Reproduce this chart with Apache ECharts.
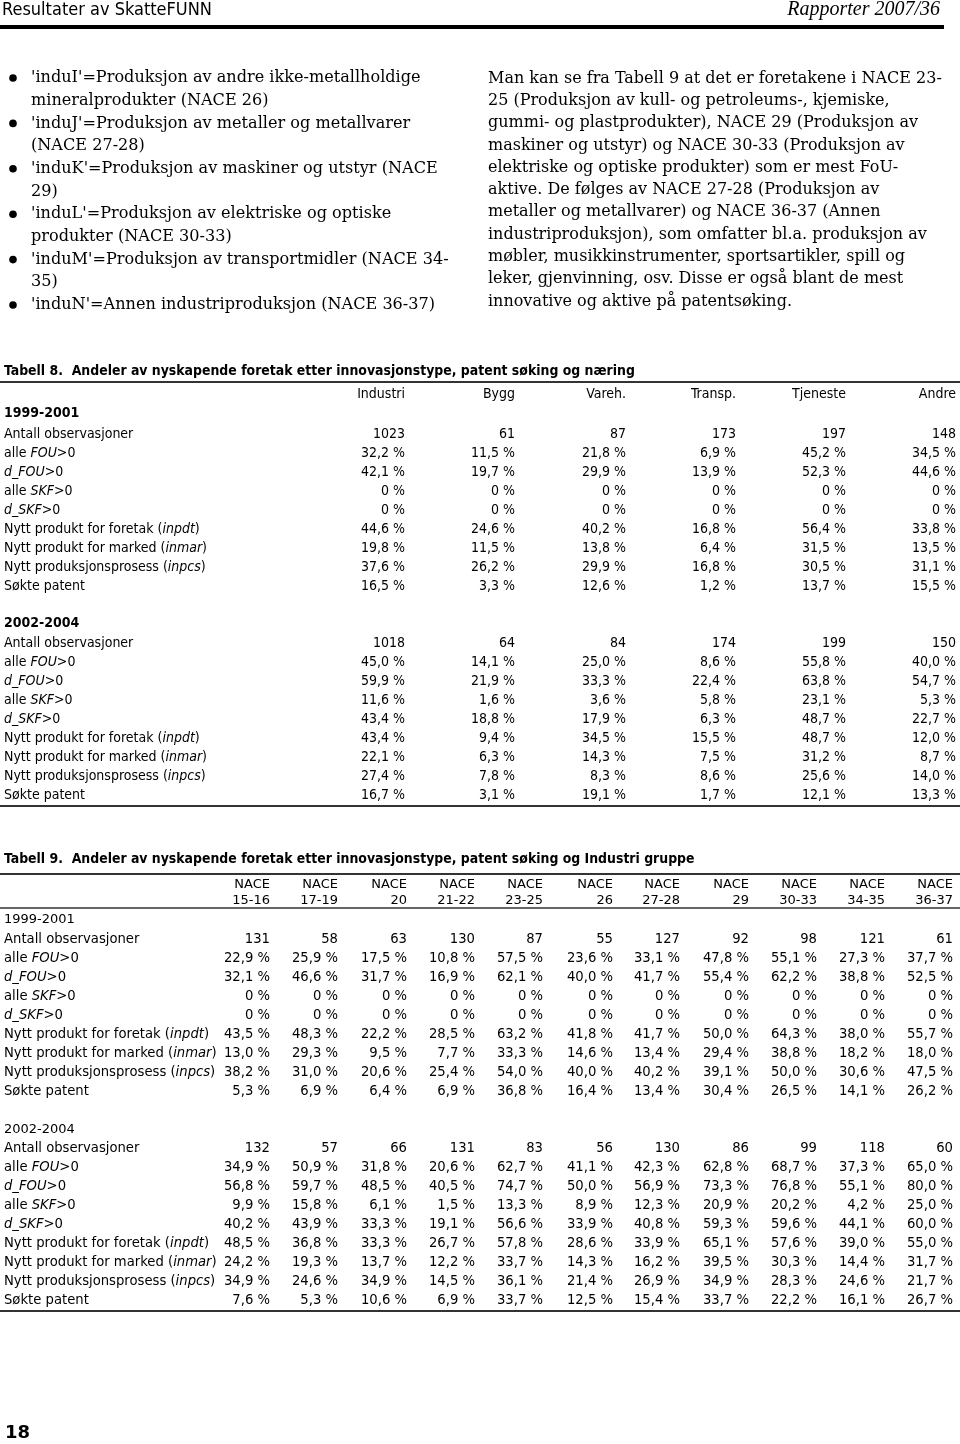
<!DOCTYPE html>
<html>
<head>
<meta charset="utf-8">
<script src="https://cdn.jsdelivr.net/npm/echarts@6/dist/echarts.min.js"></script>
<style>
html, body { margin: 0; background: #fff; }
#page { width: 960px; height: 1444px; }
</style>
</head>
<body>
<div id="page"></div>
<script>
// --- tekst og tall fra siden ---
const headerLeft = 'Resultater av SkatteFUNN';
const headerRight = 'Rapporter 2007/36';
const pageNo = '18';

const bulletLines = [
  ["'induI'=Produksjon av andre ikke-metallholdige", 'mineralprodukter (NACE 26)'],
  ["'induJ'=Produksjon av metaller og metallvarer", '(NACE 27-28)'],
  ["'induK'=Produksjon av maskiner og utstyr (NACE", '29)'],
  ["'induL'=Produksjon av elektriske og optiske", 'produkter (NACE 30-33)'],
  ["'induM'=Produksjon av transportmidler (NACE 34-", '35)'],
  ["'induN'=Annen industriproduksjon (NACE 36-37)"]
];

const paragraphLines = [
  'Man kan se fra Tabell 9 at det er foretakene i NACE 23-',
  '25 (Produksjon av kull- og petroleums-, kjemiske,',
  'gummi- og plastprodukter), NACE 29 (Produksjon av',
  'maskiner og utstyr) og NACE 30-33 (Produksjon av',
  'elektriske og optiske produkter) som er mest FoU-',
  'aktive. De følges av NACE 27-28 (Produksjon av',
  'metaller og metallvarer) og NACE 36-37 (Annen',
  'industriproduksjon), som omfatter bl.a. produksjon av',
  'møbler, musikkinstrumenter, sportsartikler, spill og',
  'leker, gjenvinning, osv. Disse er også blant de mest',
  'innovative og aktive på patentsøking.'
];

const periods = ['1999-2001', '2002-2004'];
const rowLabels = [
  'Antall observasjoner',
  'alle {i|FOU}>0',
  '{i|d_FOU}>0',
  'alle {i|SKF}>0',
  '{i|d_SKF}>0',
  'Nytt produkt for foretak ({i|inpdt})',
  'Nytt produkt for marked ({i|inmar})',
  'Nytt produksjonsprosess ({i|inpcs})',
  'Søkte patent'
];

// Tabell 8
const t8Title = 'Tabell 8.  Andeler av nyskapende foretak etter innovasjonstype, patent søking og næring';
const t8Cols = ['Industri', 'Bygg', 'Vareh.', 'Transp.', 'Tjeneste', 'Andre'];
const t8Obs1999 = [1023, 61, 87, 173, 197, 148];
const t8Pct1999 = [
  [32.2, 11.5, 21.8, 6.9, 45.2, 34.5],
  [42.1, 19.7, 29.9, 13.9, 52.3, 44.6],
  [0, 0, 0, 0, 0, 0],
  [0, 0, 0, 0, 0, 0],
  [44.6, 24.6, 40.2, 16.8, 56.4, 33.8],
  [19.8, 11.5, 13.8, 6.4, 31.5, 13.5],
  [37.6, 26.2, 29.9, 16.8, 30.5, 31.1],
  [16.5, 3.3, 12.6, 1.2, 13.7, 15.5]
];
const t8Obs2002 = [1018, 64, 84, 174, 199, 150];
const t8Pct2002 = [
  [45.0, 14.1, 25.0, 8.6, 55.8, 40.0],
  [59.9, 21.9, 33.3, 22.4, 63.8, 54.7],
  [11.6, 1.6, 3.6, 5.8, 23.1, 5.3],
  [43.4, 18.8, 17.9, 6.3, 48.7, 22.7],
  [43.4, 9.4, 34.5, 15.5, 48.7, 12.0],
  [22.1, 6.3, 14.3, 7.5, 31.2, 8.7],
  [27.4, 7.8, 8.3, 8.6, 25.6, 14.0],
  [16.7, 3.1, 19.1, 1.7, 12.1, 13.3]
];

// Tabell 9
const t9Title = 'Tabell 9.  Andeler av nyskapende foretak etter innovasjonstype, patent søking og Industri gruppe';
const t9Codes = ['15-16', '17-19', '20', '21-22', '23-25', '26', '27-28', '29', '30-33', '34-35', '36-37'];
const t9Obs1999 = [131, 58, 63, 130, 87, 55, 127, 92, 98, 121, 61];
const t9Pct1999 = [
  [22.9, 25.9, 17.5, 10.8, 57.5, 23.6, 33.1, 47.8, 55.1, 27.3, 37.7],
  [32.1, 46.6, 31.7, 16.9, 62.1, 40.0, 41.7, 55.4, 62.2, 38.8, 52.5],
  [0, 0, 0, 0, 0, 0, 0, 0, 0, 0, 0],
  [0, 0, 0, 0, 0, 0, 0, 0, 0, 0, 0],
  [43.5, 48.3, 22.2, 28.5, 63.2, 41.8, 41.7, 50.0, 64.3, 38.0, 55.7],
  [13.0, 29.3, 9.5, 7.7, 33.3, 14.6, 13.4, 29.4, 38.8, 18.2, 18.0],
  [38.2, 31.0, 20.6, 25.4, 54.0, 40.0, 40.2, 39.1, 50.0, 30.6, 47.5],
  [5.3, 6.9, 6.4, 6.9, 36.8, 16.4, 13.4, 30.4, 26.5, 14.1, 26.2]
];
const t9Obs2002 = [132, 57, 66, 131, 83, 56, 130, 86, 99, 118, 60];
const t9Pct2002 = [
  [34.9, 50.9, 31.8, 20.6, 62.7, 41.1, 42.3, 62.8, 68.7, 37.3, 65.0],
  [56.8, 59.7, 48.5, 40.5, 74.7, 50.0, 56.9, 73.3, 76.8, 55.1, 80.0],
  [9.9, 15.8, 6.1, 1.5, 13.3, 8.9, 12.3, 20.9, 20.2, 4.2, 25.0],
  [40.2, 43.9, 33.3, 19.1, 56.6, 33.9, 40.8, 59.3, 59.6, 44.1, 60.0],
  [48.5, 36.8, 33.3, 26.7, 57.8, 28.6, 33.9, 65.1, 57.6, 39.0, 55.0],
  [24.2, 19.3, 13.7, 12.2, 33.7, 14.3, 16.2, 39.5, 30.3, 14.4, 31.7],
  [34.9, 24.6, 34.9, 14.5, 36.1, 21.4, 26.9, 34.9, 28.3, 24.6, 21.7],
  [7.6, 5.3, 10.6, 6.9, 33.7, 12.5, 15.4, 33.7, 22.2, 16.1, 26.7]
];

// --- tegning ---
const COND = '"DejaVu Sans Condensed", "DejaVu Sans", sans-serif';
const WIDE = '"DejaVu Sans", sans-serif';
const SERIF = '"DejaVu Serif", serif';

function pct(v) {
  return v === 0 ? '0 %' : v.toFixed(1).replace('.', ',') + ' %';
}

function text(x, y, str, st) {
  return {
    type: 'text', x: x, y: y, silent: true,
    style: Object.assign({
      text: str, fill: '#000', fontFamily: COND, fontSize: 14,
      align: 'left', verticalAlign: 'middle'
    }, st || {})
  };
}

function rule(y, w, x2) {
  return {
    type: 'line', silent: true,
    shape: { x1: 0, y1: y, x2: x2 || 960, y2: y },
    style: { stroke: '#333', lineWidth: w }
  };
}

const els = [];

// topptekst
els.push(text(2, 10, headerLeft, { fontSize: 18 }));
els.push(text(940, 10, headerRight, { align: 'right', fontFamily: '"Liberation Serif", serif', fontStyle: 'italic', fontSize: 20 }));
els.push({ type: 'rect', silent: true, shape: { x: 0, y: 25, width: 944, height: 4 }, style: { fill: '#000' } });

// punktliste
let ln = 0;
bulletLines.forEach(function (item) {
  els.push({ type: 'circle', silent: true, shape: { cx: 13, cy: 78 + ln * 22.7, r: 3.8 }, style: { fill: '#000' } });
  item.forEach(function (s) {
    els.push(text(31, 78 + ln * 22.7, s, { fontFamily: SERIF, fontSize: 16.1 }));
    ln++;
  });
});

// avsnitt
paragraphLines.forEach(function (s, i) {
  els.push(text(488, 78.5 + i * 22.3, s, { fontFamily: SERIF, fontSize: 16 }));
});

function drawBlock(colX, y0, obs, pcts, font, size) {
  const rich = { i: { fontStyle: 'italic', fontFamily: font, fontSize: size } };
  rowLabels.forEach(function (lab, r) {
    const y = y0 + r * 19;
    els.push(text(4, y, lab, { rich: rich, fontFamily: font, fontSize: size }));
    const vals = r === 0 ? obs.map(String) : pcts[r - 1].map(pct);
    vals.forEach(function (v, c) {
      els.push(text(colX[c], y, v, { align: 'right', fontFamily: font, fontSize: size }));
    });
  });
}

// Tabell 8
const t8X = [405, 515, 626, 736, 846, 956];
els.push(text(4, 371, t8Title, { fontWeight: 'bold', fontSize: 13.9 }));
els.push(rule(382, 2));
t8Cols.forEach(function (c, i) { els.push(text(t8X[i], 394, c, { align: 'right' })); });
els.push(text(4, 413, periods[0], { fontWeight: 'bold' }));
drawBlock(t8X, 434, t8Obs1999, t8Pct1999, COND, 14);
els.push(text(4, 623, periods[1], { fontWeight: 'bold' }));
drawBlock(t8X, 643, t8Obs2002, t8Pct2002, COND, 14);
els.push(rule(806, 2));

// Tabell 9
const t9X = [270, 338, 407, 475, 543, 613, 680, 749, 817, 885, 953];
els.push(text(4, 859, t9Title, { fontWeight: 'bold', fontSize: 13.9 }));
els.push(rule(874, 2));
t9Codes.forEach(function (c, i) {
  els.push(text(t9X[i], 885, 'NACE', { align: 'right', fontFamily: WIDE, fontSize: 13 }));
  els.push(text(t9X[i], 901, c, { align: 'right', fontFamily: WIDE, fontSize: 13 }));
});
els.push(rule(908, 1.5));
els.push(text(4, 920, periods[0], { fontFamily: WIDE, fontSize: 13 }));
drawBlock(t9X, 940, t9Obs1999, t9Pct1999, WIDE, 13.2);
els.push(text(4, 1130, periods[1], { fontFamily: WIDE, fontSize: 13 }));
drawBlock(t9X, 1149, t9Obs2002, t9Pct2002, WIDE, 13.2);
els.push(rule(1311, 2));

// sidetall
els.push(text(5, 1433, pageNo, { fontFamily: WIDE, fontWeight: 'bold', fontSize: 18 }));

const chart = echarts.init(document.getElementById('page'));
chart.setOption({
  backgroundColor: '#fff',
  animation: false,
  graphic: els
});
</script>
</body>
</html>
